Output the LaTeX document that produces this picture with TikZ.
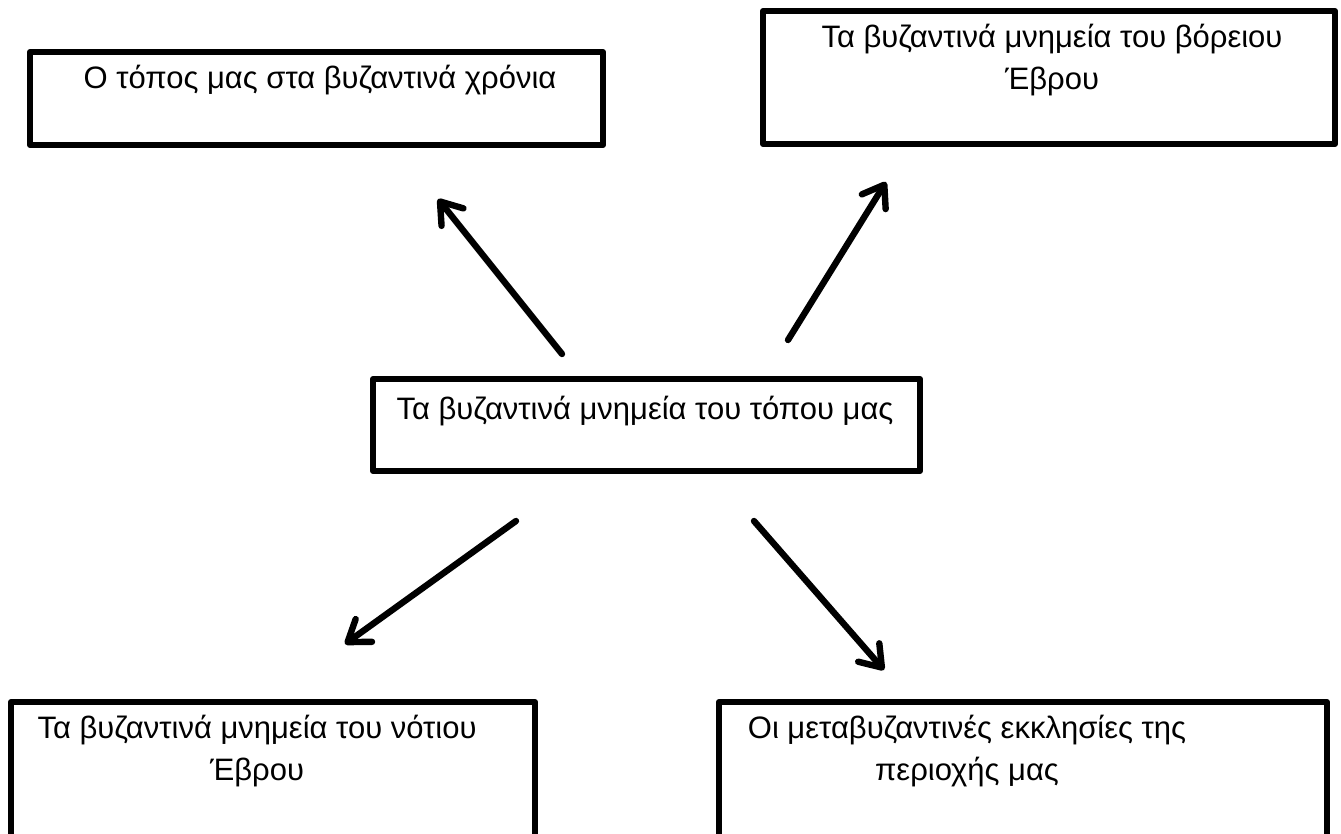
\documentclass[tikz,border=0pt]{standalone}
\usepackage{fontspec}
\setmainfont{Liberation Sans}
\usetikzlibrary{arrows.meta}
\begin{document}
\begin{tikzpicture}[x=0.5pt,y=-0.5pt,
  box/.style={draw=black,line width=3pt,fill=white,line join=round},
  lbl/.style={font=\fontsize{15.5}{21}\selectfont,align=center,inner sep=0pt,anchor=center},
  arr/.style={line width=3.2pt,line cap=round,-{Straight Barb[length=10pt,width=14pt,line cap=round,line join=round]}}]
\useasboundingbox (0,0) rectangle (1341,834);
\fill[white] (0,0) rectangle (1341,834);
% boxes
\draw[box] (30,52) rectangle (603,145);
\draw[box] (763,11) rectangle (1335,144);
\draw[box] (373,379) rectangle (920,471);
\draw[box] (11,702) rectangle (535,837);
\draw[box] (719,702) rectangle (1327,837);
% texts
\node[lbl] (t1) at (320,80) {Ο τόπος μας στα βυζαντινά χρόνια};
\node[lbl] (t2) at (1052,60) {Τα βυζαντινά μνημεία του βόρειου\\Έβρου};
\node[lbl] (t3) at (645,411) {Τα βυζαντινά μνημεία του τόπου μας};
\node[lbl] (t4) at (257,751) {Τα βυζαντινά μνημεία του νότιου\\Έβρου};
\node[lbl] (t5) at (967,751) {Οι μεταβυζαντινές εκκλησίες της\\περιοχής μας};
% arrow ends
\coordinate (a1s) at (562,354);
\coordinate (a1e) at (438,199);
\coordinate (a2s) at (788,340);
\coordinate (a2e) at (886,182);
\coordinate (a3s) at (516,521);
\coordinate (a3e) at (345,644);
\coordinate (a4s) at (754,521);
\coordinate (a4e) at (884,670);
\draw[arr] (a1s) -- (a1e);
\draw[arr] (a2s) -- (a2e);
\draw[arr] (a3s) -- (a3e);
\draw[arr] (a4s) -- (a4e);
\end{tikzpicture}
\end{document}
